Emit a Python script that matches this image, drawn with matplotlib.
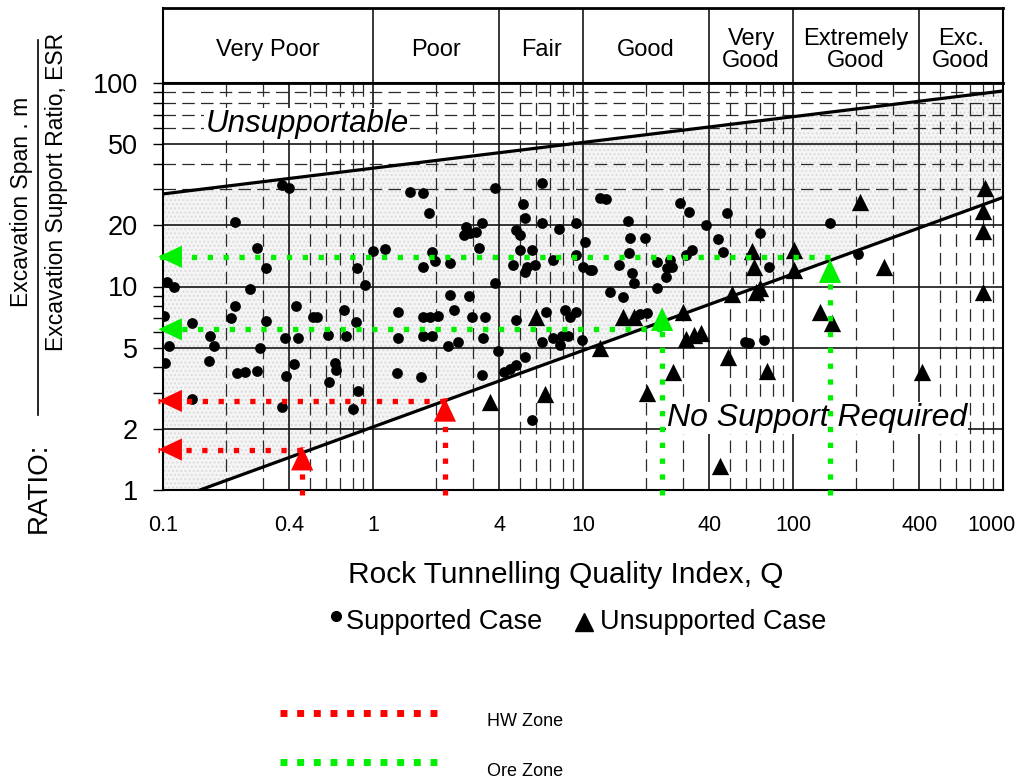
# Q-system span chart with HW / Ore zone readings

import numpy as np
import matplotlib.pyplot as plt
from matplotlib.lines import Line2D
from matplotlib.ticker import FixedLocator, NullFormatter

plt.rcParams['font.family'] = ['Liberation Sans', 'DejaVu Sans']

# rock classes (header)
class_edges = [0.1, 1, 4, 10, 40, 100, 400, 1000]
class_names = ['Very Poor', 'Poor', 'Fair', 'Good', 'Very\nGood', 'Extremely\nGood', 'Exc.\nGood']

# tick labels
x_ticks = [0.1, 0.4, 1, 4, 10, 40, 100, 400, 1000]
x_labels = ['0.1', '0.4', '1', '4', '10', '40', '100', '400', '1000']
y_ticks = [1, 2, 5, 10, 20, 50, 100]
y_labels = ['1', '2', '5', '10', '20', '50', '100']

# boundary lines
upper_q = [0.1, 1000]
upper_span = [28.5, 91.4]
lower_q = [0.15, 1000]
lower_span = [1.0, 27.4]

# supported cases (dots)
sup_q = [0.37, 0.40, 0.22, 0.28, 1.0, 1.14, 0.31, 0.84, 0.105, 0.113, 0.26, 0.92,
         0.22, 0.21, 0.101, 0.138, 0.31, 0.43, 0.52, 0.54, 0.73, 0.83, 0.38, 0.44,
         0.61, 0.74, 0.167, 0.174, 0.107, 0.29, 0.102, 0.166, 0.226, 0.245, 0.28,
         0.42, 0.385, 0.66, 0.67, 0.62, 0.85, 0.80, 0.138, 0.37,
         1.5, 1.73, 3.8, 6.4, 1.85, 2.77, 2.9, 2.7, 3.3, 3.1, 3.2, 5.2, 5.3, 6.4,
         4.8, 5.0, 7.7, 9.3, 10.2, 1.9, 1.97, 1.73, 2.33, 5.0, 5.7, 4.66, 5.4, 5.9,
         5.3, 7.2, 9.3, 10.0, 10.8, 3.8, 2.33, 2.87, 2.43, 1.31, 1.73, 1.87, 2.05,
         2.95, 3.4, 1.73, 1.9, 1.31, 2.55, 2.28, 3.35, 4.8, 6.7, 8.2, 9.3, 8.7,
         6.36, 7.2, 7.9, 8.5, 7.8, 9.9, 3.95, 5.3, 4.8, 4.5, 4.2, 1.3, 1.7, 3.3, 5.7,
         12.0, 12.9, 29, 32, 48.6, 16.4, 38.5, 70, 16.7, 19.7, 44, 16.6, 33, 31,
         46.6, 11, 14.9, 22.4, 26, 26.4, 25, 17.1, 17.4, 24.8, 22.4, 77, 13.4,
         15.5, 18.7, 20.1, 59, 62, 73, 150, 205]
sup_span = [31.5, 30.4, 20.8, 15.5, 14.9, 15.2, 12.3, 12.3, 10.5, 10.0, 9.7, 10.2,
            8.0, 7.0, 7.2, 6.6, 6.8, 8.0, 7.1, 7.1, 7.7, 6.7, 5.6, 5.6,
            5.8, 5.7, 5.7, 5.1, 5.1, 5.0, 4.2, 4.3, 3.75, 3.8, 3.85,
            4.15, 3.65, 4.2, 3.9, 3.4, 3.05, 2.5, 2.8, 2.55,
            29.2, 28.7, 30.4, 32.4, 23.0, 19.6, 18.3, 17.9, 20.4, 18.6, 15.4, 25.3, 21.6, 20.4,
            18.9, 17.9, 19.2, 20.5, 16.5, 14.7, 13.3, 12.5, 13.0, 15.1, 15.1, 12.8, 12.5, 12.8,
            11.8, 13.5, 14.3, 12.5, 12.1, 10.4, 9.1, 9.0, 7.7, 7.5, 7.1, 7.1, 7.2,
            7.1, 7.1, 5.7, 5.7, 5.56, 5.35, 5.1, 5.56, 6.85, 7.5, 7.7, 7.5, 7.1,
            5.35, 5.56, 5.7, 5.7, 5.16, 5.46, 4.8, 4.5, 4.1, 3.93, 3.78, 3.75, 3.6, 3.67, 2.22,
            27.1, 26.8, 25.6, 23.3, 22.9, 21.0, 20.1, 18.4, 17.3, 17.3, 17.1, 14.6, 15.1, 14.3,
            14.7, 12.1, 12.8, 13.2, 13.5, 12.5, 12.3, 11.7, 10.4, 11.1, 9.8, 12.5, 9.4,
            8.85, 7.3, 7.4, 5.35, 5.26, 5.46, 20.4, 14.4]

# unsupported cases (triangles)
uns_q = [3.6, 6.6, 6.0, 15.5, 17.4, 12.0, 30, 31, 33.8, 36.5, 51, 64, 65, 67, 70,
         101, 101, 49, 26.9, 75, 20.1, 45, 208, 820, 805, 805, 271, 800, 134, 153, 410]
uns_span = [2.7, 2.95, 7.1, 7.1, 7.1, 5.0, 7.5, 5.5, 5.8, 5.9, 9.2, 14.9, 12.4, 9.4, 9.8,
            15.1, 12.1, 4.5, 3.78, 3.85, 3.0, 1.31, 26.1, 30.4, 23.6, 18.8, 12.4, 9.35, 7.5, 6.6, 3.78]

# zone readings: vertical arrow at Q up to a span, horizontal arrow back to axis
hw_q = [0.46, 2.2]
hw_top = [1.63, 2.83]
hw_span = [1.58, 2.74]
ore_q = [23.8, 150]
ore_top = [7.9, 13.6]
ore_span = [6.16, 14.0]

RED = '#ff0000'
GREEN = '#00f000'

fig = plt.figure(figsize=(10.19, 7.84), dpi=100)
ax = fig.add_axes([163 / 1019, 1 - 490 / 784, 840 / 1019, 407 / 784])
ax.set_xscale('log')
ax.set_yscale('log')
ax.set_xlim(0.1, 1000)
ax.set_ylim(1, 100)

# shaded support zone
qq = np.logspace(-1, 3, 300)
up = 10 ** np.interp(np.log10(qq), np.log10(upper_q), np.log10(upper_span))
lo = 10 ** np.interp(np.log10(qq), np.log10(lower_q), np.log10(lower_span), left=0)
ax.fill_between(qq, lo, up, facecolor='#f5f5f5', edgecolor='#dcdcdc',
                hatch='....', linewidth=0, zorder=0)

# grid
solid_x = [0.4, 1, 4, 10, 40, 100, 400]
for x in solid_x:
    ax.axvline(x, color='#151515', lw=1.2, zorder=1)
for dec in [0.1, 1, 10, 100]:
    for m in [2, 3, 5, 6, 7, 8, 9]:
        ax.axvline(m * dec, color='#2a2a2a', lw=0.9, ls=(0, (10, 5)), zorder=1)
for y in [2, 5, 10, 20, 50]:
    ax.axhline(y, color='#151515', lw=1.2, zorder=1)
for y in [30, 40, 60, 70, 80, 90]:
    ax.axhline(y, color='#2a2a2a', lw=0.9, ls=(0, (10, 5)), zorder=1)

ax.plot(upper_q, upper_span, color='black', lw=2.3, zorder=2)
ax.plot(lower_q, lower_span, color='black', lw=2.3, zorder=2)

ax.scatter(sup_q, sup_span, s=60, c='black', marker='o', linewidths=0, zorder=3)
ax.scatter(uns_q, uns_span, s=155, c='black', marker='^', linewidths=0, zorder=3)

ax.text(0.485, 62.9, 'Unsupportable', style='italic', fontsize=22.5, ha='center', va='center',
        bbox=dict(facecolor='white', edgecolor='none', pad=1), zorder=4)
ax.text(130, 2.26, 'No Support Required', style='italic', fontsize=23, ha='center', va='center',
        bbox=dict(facecolor='white', edgecolor='none', pad=1), zorder=4)

# x tick labels drawn by hand so the last one stays inside the figure
ax.xaxis.set_major_locator(FixedLocator(x_ticks))
ax.xaxis.set_major_formatter(NullFormatter())
ax.xaxis.set_minor_locator(FixedLocator([]))
ax.xaxis.set_minor_formatter(NullFormatter())
ax.tick_params(axis='x', which='both', length=0)
for t, lab in zip(x_ticks, x_labels):
    dx = -8 if lab == '1000' else 0
    ax.annotate(lab, xy=(t, 0), xycoords=ax.get_xaxis_transform(), xytext=(dx, -18),
                textcoords='offset points', ha='center', va='top', fontsize=15.5,
                annotation_clip=False)

ax.yaxis.set_major_locator(FixedLocator(y_ticks))
ax.yaxis.set_major_formatter(plt.FixedFormatter(y_labels))
ax.yaxis.set_minor_locator(FixedLocator([3, 4, 6, 7, 8, 9, 30, 40, 60, 70, 80, 90]))
ax.yaxis.set_minor_formatter(NullFormatter())
ax.tick_params(axis='y', which='both', length=7, width=1, pad=11, labelsize=19.5, direction='out')
for s in ax.spines.values():
    s.set_linewidth(1.5)
ax.spines['top'].set_linewidth(2)


def arrow(x0, y0, x1, y1, color):
    ax.plot([x0, x1], [y0, y1], color=color, lw=3.8, dashes=(1, 2), clip_on=False, zorder=5)
    off = (17, 0) if y0 == y1 else (0, -17)
    ax.annotate('', xy=(x1, y1), xytext=off, textcoords='offset points', annotation_clip=False,
                arrowprops=dict(arrowstyle='-|>,head_length=0.85,head_width=0.4', mutation_scale=20,
                                color=color, lw=0, shrinkA=0, shrinkB=0), zorder=6)


for q, top, span in zip(hw_q, hw_top, hw_span):
    arrow(q, 0.95, q, top, RED)
    arrow(q, span, 0.095, span, RED)
for q, top, span in zip(ore_q, ore_top, ore_span):
    arrow(q, 0.95, q, top, GREEN)
    arrow(q, span, 0.095, span, GREEN)

# header band with rock classes
hax = fig.add_axes([163 / 1019, 1 - 83 / 784, 840 / 1019, 75 / 784])
hax.set_xscale('log')
hax.set_xlim(0.1, 1000)
hax.set_ylim(0, 1)
hax.set_xticks([])
hax.set_yticks([])
hax.minorticks_off()
for s in hax.spines.values():
    s.set_linewidth(1.5)
hax.spines['top'].set_linewidth(2)
for x in class_edges[1:-1]:
    hax.axvline(x, color='#151515', lw=1.2)
for a, b, name in zip(class_edges[:-1], class_edges[1:], class_names):
    hax.text(np.sqrt(a * b), 0.44, name, ha='center', va='center', fontsize=17, linespacing=1.05)

# axis titles
fig.text(566 / 1019, 1 - 575 / 784, 'Rock Tunnelling Quality Index, Q', ha='center', va='center', fontsize=21.5)
fig.text(39 / 1019, 1 - 488 / 784, 'RATIO:', rotation=90, ha='center', va='center', fontsize=20)
fig.text(22 / 1019, 1 - 202 / 784, 'Excavation Span . m', rotation=90, ha='center', va='center', fontsize=16.5)
fig.text(57 / 1019, 1 - 192 / 784, 'Excavation Support Ratio, ESR', rotation=90, ha='center', va='center', fontsize=16.5)
fig.add_artist(Line2D([38 / 1019, 38 / 1019], [1 - 40 / 784, 1 - 415 / 784], color='black', lw=1.2,
                      transform=fig.transFigure))

# marker legend
fig.add_artist(Line2D([336 / 1019], [1 - 616 / 784], marker='o', ms=7, color='black', lw=0,
                      transform=fig.transFigure))
fig.text(346 / 1019, 1 - 622 / 784, 'Supported Case', ha='left', va='center', fontsize=19.5)
fig.add_artist(Line2D([584 / 1019], [1 - 622 / 784], marker='^', ms=13, color='black', lw=0,
                      transform=fig.transFigure))
fig.text(600 / 1019, 1 - 622 / 784, 'Unsupported Case', ha='left', va='center', fontsize=19.5)

# zone legend
fig.add_artist(Line2D([280 / 1019, 445 / 1019], [1 - 713 / 784] * 2, color=RED, lw=5, dashes=(1, 1.4),
                      transform=fig.transFigure))
fig.text(487 / 1019, 1 - 722 / 784, 'HW Zone', ha='left', va='center', fontsize=13)
fig.add_artist(Line2D([280 / 1019, 445 / 1019], [1 - 762 / 784] * 2, color=GREEN, lw=5, dashes=(1, 1.4),
                      transform=fig.transFigure))
fig.text(487 / 1019, 1 - 771 / 784, 'Ore Zone', ha='left', va='center', fontsize=13)

fig.savefig('out.png', dpi=100)
